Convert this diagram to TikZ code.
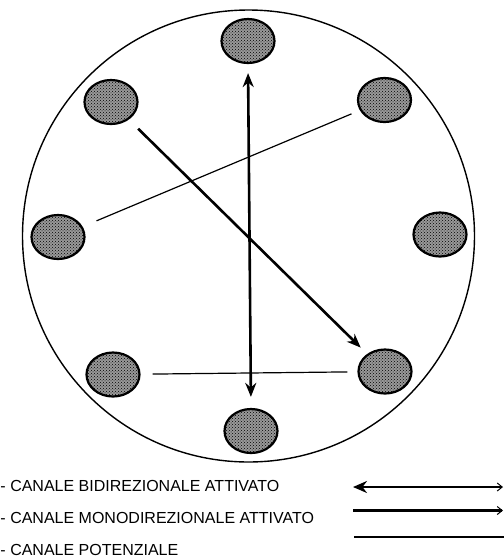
\documentclass[tikz,border=0pt]{standalone}
\usepackage{fontspec}
\setmainfont{Liberation Sans}
\usetikzlibrary{arrows.meta,patterns,shapes.geometric}
\begin{document}
\begin{tikzpicture}[x=1pt,y=-1pt,
  cell/.style={ellipse,draw=black,line width=2.2pt,minimum width=53pt,minimum height=44pt,inner sep=0pt,
     fill=black!40,postaction={pattern=crosshatch dots,pattern color=black}},
  bidir/.style={line width=2.6pt,{Stealth[length=14pt,width=11pt]}-{Stealth[length=14pt,width=11pt]}},
  monodir/.style={line width=2.6pt,-{Stealth[length=14pt,width=11pt]}},
  potential/.style={line width=1.2pt},
  legtext/.style={anchor=base west,inner sep=0pt,font=\fontsize{16}{18}\selectfont}]
\useasboundingbox (0,0) rectangle (504,558);
\node[circle,draw=black,line width=1.4pt,minimum size=452pt,inner sep=0pt] (ring) at (248.5,236) {};
\node[cell] (nT)  at (248,41) {};
\node[cell] (nUR) at (384.5,100) {};
\node[cell] (nR)  at (440,234.5) {};
\node[cell] (nLR) at (385,371.5) {};
\node[cell] (nB)  at (251,431) {};
\node[cell] (nLL) at (113,374.5) {};
\node[cell] (nL)  at (58,237) {};
\node[cell] (nUL) at (111,102) {};
% connectors
\draw[bidir,shorten <=9pt,shorten >=11pt] (nT.south) -- (nB.north);
\draw[monodir,shorten <=13pt,shorten >=9pt] (nUL) -- (nLR);
\draw[potential,shorten <=15pt,shorten >=9pt] (nL) -- (nUR);
\draw[potential,shorten <=12pt,shorten >=10pt] (nLL) -- (nLR);
% legend
\node[legtext] (t1) at (0.3,491.5) {- CANALE BIDIREZIONALE ATTIVATO};
\node[legtext] (t2) at (0.3,523.3) {- CANALE MONODIREZIONALE ATTIVATO};
\node[legtext] (t3) at (0.3,555.5) {- CANALE POTENZIALE};
\coordinate (a1) at (353,487);
\coordinate (b1) at (503,487);
\coordinate (a2) at (353,510.5);
\coordinate (b2) at (503,510.5);
\coordinate (a3) at (354,537);
\coordinate (b3) at (506,537);
\draw[line width=2.8pt,{Stealth[length=14pt,width=12pt]}-{Straight Barb[length=5pt,width=8pt,line width=1pt]}] (a1) -- (b1);
\draw[line width=2.8pt,-{Straight Barb[length=5pt,width=8pt,line width=1pt]}] (a2) -- (b2);
\draw[line width=1.6pt] (a3) -- (b3);
\end{tikzpicture}
\end{document}
